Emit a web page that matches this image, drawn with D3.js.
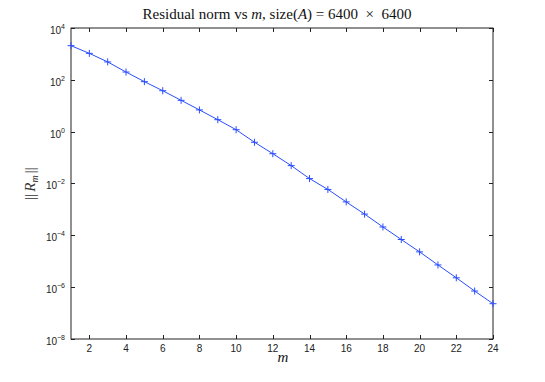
<!DOCTYPE html>
<html><head><meta charset="utf-8">
<script src="https://cdn.jsdelivr.net/npm/d3@7"></script>
<style>body{margin:0;background:#fff}</style>
</head><body>
<svg id="c" width="545" height="382"></svg>
<script>
const mValues = [1,2,3,4,5,6,7,8,9,10,11,12,13,14,15,16,17,18,19,20,21,22,23,24];
const residuals = [2080,1050,490,200,85,38,16.2,6.9,2.9,1.19,0.39,0.141,0.049,0.0155,0.0059,0.00195,6.6e-4,2.1e-4,6.9e-5,2.3e-5,7.2e-6,2.3e-6,7.1e-7,2.3e-7];
const xTicks = [2,4,6,8,10,12,14,16,18,20,22,24];
const yTickExps = [4,2,0,-2,-4,-6,-8];

const svg = d3.select("#c");
const L=71, R=493, T=28, B=339;
const x = d3.scaleLinear().domain([1,24]).range([L,R]);
const y = d3.scaleLog().domain([1e-8,1e4]).range([B,T]);
const axisColor = "#222";
const tickFont = "'Liberation Sans', Arial, sans-serif";
const serif = "'Liberation Serif','DejaVu Serif',serif";

// box
svg.append("rect").attr("x",L).attr("y",T).attr("width",R-L).attr("height",B-T)
  .attr("fill","none").attr("stroke",axisColor).attr("stroke-width",1);

const tl = 4;
// x ticks
xTicks.forEach(t=>{
  const px = Math.round(x(t))+0.5;
  svg.append("line").attr("x1",px).attr("x2",px).attr("y1",B).attr("y2",B-tl).attr("stroke",axisColor);
  svg.append("line").attr("x1",px).attr("x2",px).attr("y1",T).attr("y2",T+tl).attr("stroke",axisColor);
  svg.append("text").attr("x",x(t)).attr("y",B+13).attr("text-anchor","middle")
    .attr("font-family",tickFont).attr("font-size",10).attr("fill","#222").text(t);
});
// y ticks
yTickExps.forEach(e=>{
  const py = Math.round(y(Math.pow(10,e)))+0.5;
  svg.append("line").attr("x1",L).attr("x2",L+tl).attr("y1",py).attr("y2",py).attr("stroke",axisColor);
  svg.append("line").attr("x1",R).attr("x2",R-tl).attr("y1",py).attr("y2",py).attr("stroke",axisColor);
  const g = svg.append("text").attr("x",L-6).attr("y",py+5).attr("text-anchor","end")
    .attr("font-family",tickFont).attr("font-size",10).attr("fill","#222");
  g.append("tspan").text("10");
  g.append("tspan").attr("dy",-5).attr("font-size",7).text(e<0?"\u2212"+(-e):String(e));
});

// line
const line = d3.line().x((d,i)=>x(mValues[i])).y(d=>y(d));
svg.append("path").datum(residuals).attr("d",line).attr("fill","none")
  .attr("stroke","#2a4dff").attr("stroke-width",1);
// markers
const ms = 3.5;
residuals.forEach((v,i)=>{
  const cx = x(mValues[i]), cy = y(v);
  svg.append("line").attr("x1",cx-ms).attr("x2",cx+ms).attr("y1",cy).attr("y2",cy).attr("stroke","#2a4dff");
  svg.append("line").attr("x1",cx).attr("x2",cx).attr("y1",cy-ms).attr("y2",cy+ms).attr("stroke","#2a4dff");
});

// title
const title = svg.append("text").attr("x",277).attr("y",19).attr("text-anchor","middle")
  .attr("font-family",serif).attr("font-size",15).attr("fill","#111").attr("xml:space","preserve");
title.append("tspan").text("Residual norm vs ");
title.append("tspan").attr("font-style","italic").text("m");
title.append("tspan").text(", size(");
title.append("tspan").attr("font-style","italic").text("A");
title.append("tspan").text(") = 6400 \u00a0\u00d7\u00a0 6400");

// x label
svg.append("text").attr("x",283).attr("y",362).attr("text-anchor","middle")
  .attr("font-family",serif).attr("font-style","italic").attr("font-size",15).attr("fill","#111").text("m");

// y label
const yl = svg.append("text").attr("transform",`translate(35,${(T+B)/2}) rotate(-90)`).attr("text-anchor","middle")
  .attr("font-family",serif).attr("font-size",15).attr("fill","#333");
yl.append("tspan").text("||");
yl.append("tspan").attr("dx",2).attr("font-style","italic").text("R");
yl.append("tspan").attr("font-style","italic").attr("font-size",10).attr("dy",3).text("m");
yl.append("tspan").attr("dy",-3).attr("dx",2).text("||");
</script>
</body></html>
